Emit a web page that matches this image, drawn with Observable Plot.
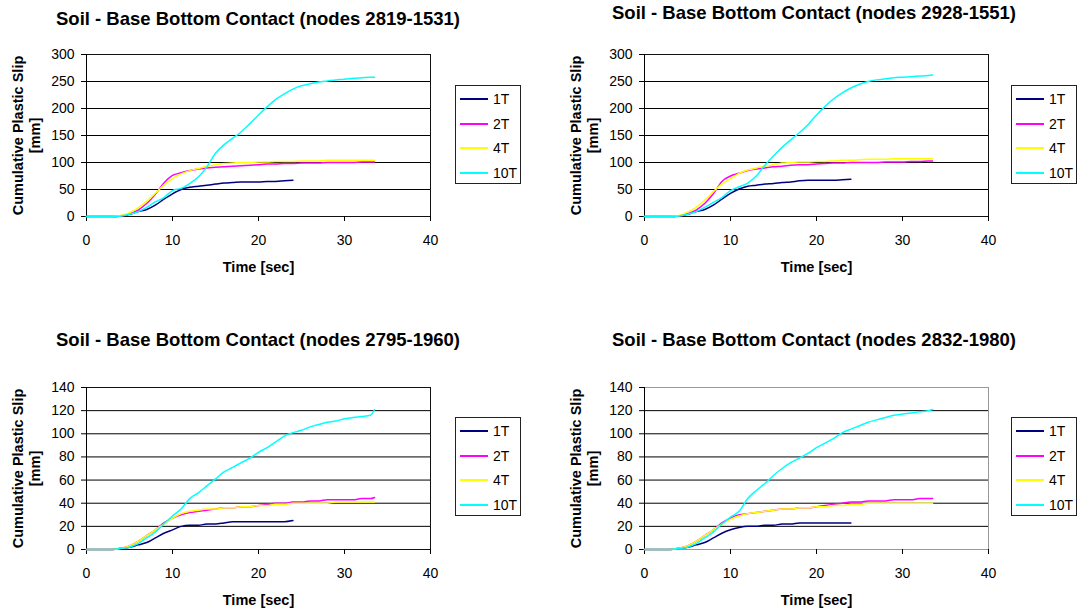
<!DOCTYPE html>
<html><head><meta charset="utf-8">
<script src="https://cdn.jsdelivr.net/npm/d3@7"></script>
<script src="https://cdn.jsdelivr.net/npm/@observablehq/plot@0.6"></script>
<style>
body{margin:0;background:#fff;font-family:"Liberation Sans",Arial,sans-serif;}
#root{position:relative;width:1081px;height:610px;overflow:hidden;background:#fff;}
.title{position:absolute;font-weight:bold;font-size:18.5px;line-height:20px;white-space:nowrap;transform:translateX(-50%);color:#000;}
.chart{position:absolute;}
.legend{position:absolute;width:64px;height:96px;border:1px solid #222;padding-top:1px;box-sizing:content-box;background:#fff;}
.row{height:24.5px;display:flex;align-items:center;font-size:14px;color:#000;}
.row svg{margin-left:4px;margin-right:5px;}
</style></head><body><div id="root"></div><script>
// ---- data ----
const seriesNames = ["1T", "2T", "4T", "10T"];
const seriesColors = ["#000080", "#FF00FF", "#FFFF00", "#00FFFF"];
const timeSec = [0,3,4,5,6,7,8,9,10,11,12,13,14,15,16,17,18,19,20,21,22,23,24,25,26,27,28,29,30,31,32,33,33.5];
const titles = [
  "Soil - Base Bottom Contact (nodes 2819-1531)",
  "Soil - Base Bottom Contact (nodes 2928-1551)",
  "Soil - Base Bottom Contact (nodes 2795-1960)",
  "Soil - Base Bottom Contact (nodes 2832-1980)"
];
const xTicks = [0, 10, 20, 30, 40];
const yTicksTop = [0, 50, 100, 150, 200, 250, 300];
const yTicksBottom = [0, 20, 40, 60, 80, 100, 120, 140];
const yLabel = "Cumulative Plastic Slip\n[mm]";
const xLabel = "Time [sec]";

// nodes 2819-1531
const slipA_1T  = [0,0,1,4,9,13,21,32,42,50,54,56,58,60,62,63,64,64,64,65,65,66,67];
const slipA_2T  = [0,0,1,5,12,24,41,62,76,81,85,88,90,91,92,93,94,95,96,97,97,98,98,99,99,99,100,100,100,100,101,101,101];
const slipA_4T  = [0,0,2,7,16,28,43,58,70,79,85,89,93,96,98,99,100,100,101,101,102,102,102,103,103,103,104,104,104,104,104,104,104];
const slipA_10T = [0,0,1,4,9,17,27,35,48,52,61,73,92,117,133,145,157,172,188,203,217,227,236,242,246,249,251,253,254,256,257,258,258];
// nodes 2928-1551
const slipB_1T  = [0,0,1,4,9,13,21,32,43,51,56,58,60,61,63,64,66,67,67,67,67,68,69];
const slipB_2T  = [0,0,1,5,12,24,42,65,75,80,85,88,90,92,93,95,96,96,97,98,99,99,100,100,100,100,101,101,101,102,102,103,103];
const slipB_4T  = [0,0,2,8,17,30,46,60,70,80,86,90,93,96,99,100,101,101,102,102,103,104,104,105,106,106,106,107,107,107,107,107,107];
const slipB_10T = [0,0,1,4,9,17,26,35,48,55,62,75,95,112,128,142,155,170,188,204,218,229,238,245,250,253,255,257,258,259,260,261,262];
// nodes 2795-1960
const slipC_1T  = [0,0,1,2,4,6,10,14,17,20,21,21,22,22,23,24,24,24,24,24,24,24,25];
const slipC_2T  = [0,0,1,3,7,12,17,23,27,30,32,33,34,35,36,36,37,37,38,39,40,40,41,41,42,42,43,43,43,43,44,44,45];
const slipC_4T  = [0,0,1,3,7,12,17,22,27,31,33,34,35,35,36,36,37,37,38,38,39,39,40,40,40,40,40,41,41,41,41,41,41];
const slipC_10T = [0,0,1,2,5,10,15,22,29,35,44,49,55,61,67,71,75,79,84,88,93,98,101,103,106,108,110,111,113,114,115,116,121];
// nodes 2832-1980
const slipD_1T  = [0,0,1,2,4,6,10,14,17,19,20,20,21,21,22,22,23,23,23,23,23,23,23];
const slipD_2T  = [0,0,1,3,7,12,17,23,27,30,31,32,33,34,35,35,36,36,37,38,39,40,41,41,42,42,42,43,43,43,44,44,44];
const slipD_4T  = [0,0,1,3,7,12,17,22,26,29,31,32,33,34,35,35,36,36,37,37,38,38,39,39,40,40,40,40,40,40,40,40,40];
const slipD_10T = [0,0,1,2,5,10,15,22,28,33,44,51,57,64,70,75,79,83,88,92,96,101,104,107,110,112,114,116,117,118,119,120,121];

// ---- layout ----
const panels = [
  {title: titles[0], series: [slipA_1T, slipA_2T, slipA_4T, slipA_10T], yTicks: yTicksTop, left: 0, top: 40, h: 245, titleX: 258, titleTop: 8.5, legendLeft: 455, legendTop: 85, frameColor: "#111"},
  {title: titles[1], series: [slipB_1T, slipB_2T, slipB_4T, slipB_10T], yTicks: yTicksTop, left: 558, top: 40, h: 245, titleX: 814, titleTop: 3, legendLeft: 1011, legendTop: 85, frameColor: "#111"},
  {title: titles[2], series: [slipC_1T, slipC_2T, slipC_4T, slipC_10T], yTicks: yTicksBottom, left: 0, top: 373, h: 237, titleX: 258, titleTop: 330, legendLeft: 455, legendTop: 417, frameColor: "#111"},
  {title: titles[3], series: [slipD_1T, slipD_2T, slipD_4T, slipD_10T], yTicks: yTicksBottom, left: 558, top: 373, h: 237, titleX: 814, titleTop: 330, legendLeft: 1011, legendTop: 417, frameColor: "#999"}
];

const root = document.getElementById("root");

panels.forEach(p => {
  const rows = [];
  p.series.forEach((vals, k) => vals.forEach((v, i) => rows.push({t: timeSec[i], v, s: seriesNames[k]})));
  const yMax = p.yTicks[p.yTicks.length - 1];

  const t = document.createElement("div");
  t.className = "title";
  t.style.left = p.titleX + "px";
  t.style.top = p.titleTop + "px";
  t.textContent = p.title;
  root.appendChild(t);

  const chart = Plot.plot({
    width: 444, height: p.h,
    marginLeft: 86, marginRight: 14, marginTop: 14, marginBottom: p.h - 176,
    style: {fontFamily: '"Liberation Sans", Arial, sans-serif', fontSize: "14px", color: "#000", background: "transparent", overflow: "visible"},
    x: {domain: [0, 40]},
    y: {domain: [0, yMax]},
    color: {domain: seriesNames, range: seriesColors},
    marks: [
      Plot.ruleY(p.yTicks.filter(d => d < yMax), {stroke: "#000", strokeWidth: 1}),
      Plot.frame({stroke: p.frameColor, strokeWidth: 1}),
      Plot.ruleX([0], {stroke: "#000", strokeWidth: 1}),
      Plot.axisX({ticks: xTicks, tickSize: 5, tickPadding: 14, label: null, tickFormat: d => d}),
      Plot.axisY({ticks: p.yTicks, tickSize: 5, tickPadding: 7, label: null, tickFormat: d => d}),
      Plot.line(rows, {x: "t", y: "v", z: "s", stroke: "s", strokeWidth: 1.5, curve: "monotone-x"}),
      Plot.text([yLabel], {text: d => d, frameAnchor: "left", dx: -60, rotate: -90, textAnchor: "middle", lineAnchor: "middle", fontWeight: "bold", fontSize: 14.5, lineHeight: 1.17}),
      Plot.text([xLabel], {text: d => d, frameAnchor: "bottom", dy: 51, textAnchor: "middle", lineAnchor: "middle", fontWeight: "bold", fontSize: 14.5})
    ]
  });
  chart.classList.add("chart");
  chart.style.left = p.left + "px";
  chart.style.top = p.top + "px";
  root.appendChild(chart);

  const lg = document.createElement("div");
  lg.className = "legend";
  lg.style.left = p.legendLeft + "px";
  lg.style.top = p.legendTop + "px";
  seriesNames.forEach((name, k) => {
    const r = document.createElement("div");
    r.className = "row";
    r.innerHTML = `<svg width="28" height="4"><line x1="0" x2="28" y1="2" y2="2" stroke="${seriesColors[k]}" stroke-width="2"/></svg><span>${name}</span>`;
    lg.appendChild(r);
  });
  root.appendChild(lg);
});
</script></body></html>
